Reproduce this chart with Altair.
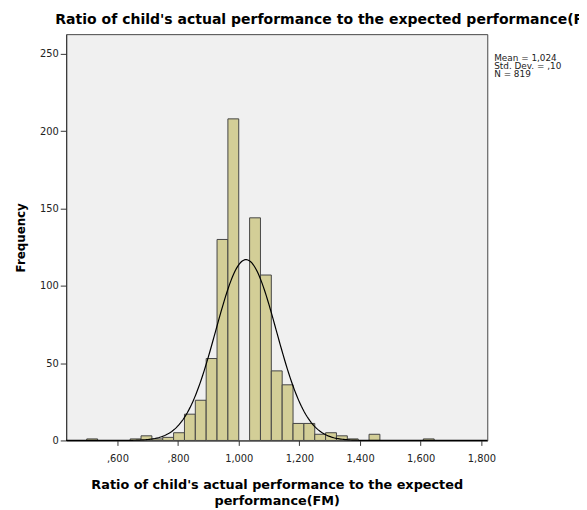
import altair as alt
import numpy as np
import pandas as pd

# ---- data ----
bin_index = list(range(-14, 18))          # bins relative to 1.000
bin_width = 0.0358
counts = [1, 0, 0, 0, 1, 3, 1, 2, 5, 17, 26, 53, 130, 208, 0, 144,
          107, 45, 36, 11, 11, 4, 5, 3, 1, 0, 4, 0, 0, 0, 0, 1]
mean_val = 1.024
sd_val = 0.100
n_val = 819

title_text = "Ratio of child's actual performance to the expected performance(FM)"
x_title = ["Ratio of child's actual performance to the expected", "performance(FM)"]
y_title = "Frequency"
stats_text = "Mean = 1,024\nStd. Dev. = ,10\nN = 819"
x_ticks = [0.6, 0.8, 1.0, 1.2, 1.4, 1.6, 1.8]
y_ticks = [0, 50, 100, 150, 200, 250]

x_domain = [0.431, 1.8195]
y_domain = [0, 262.8]

bars_df = pd.DataFrame({
    "lo": [1 + k * bin_width for k in bin_index],
    "hi": [1 + (k + 1) * bin_width for k in bin_index],
    "count": counts,
})
bars_df = bars_df[bars_df["count"] > 0]

# fitted normal curve from the reported mean / sd / N
xs = np.linspace(x_domain[0], x_domain[1], 300)
ys = n_val * bin_width * np.exp(-0.5 * ((xs - mean_val) / sd_val) ** 2) / (sd_val * np.sqrt(2 * np.pi))
curve_df = pd.DataFrame({"x": xs, "y": ys})

FONT = "DejaVu Sans"

xscale = alt.Scale(domain=x_domain, nice=False, zero=False)
yscale = alt.Scale(domain=y_domain, nice=False)

label_expr = ("datum.value < 1 ? replace(format(datum.value, '.3f'), '0.', ',') "
              ": replace(format(datum.value, '.3f'), '.', ',')")

xaxis = alt.Axis(values=x_ticks, labelExpr=label_expr, title=x_title, grid=False,
                 tickSize=5, labelPadding=8, titlePadding=16, titleLineHeight=16,
                 labelFontSize=10, titleFontSize=13, titleFontWeight="bold",
                 labelColor="#222", tickColor="#333", domainColor="#333",
                 titleColor="black", labelFont=FONT, titleFont=FONT)
yaxis = alt.Axis(values=y_ticks, title=y_title, grid=False, tickSize=6,
                 labelPadding=2, titlePadding=12, labelFontSize=10,
                 titleFontSize=12, titleFontWeight="bold",
                 labelColor="#222", tickColor="#333", domainColor="#333",
                 titleColor="black", labelFont=FONT, titleFont=FONT)

bars = alt.Chart(bars_df).mark_rect(
    fill="#D3CE97", stroke="#444444", strokeWidth=1
).encode(
    x=alt.X("lo:Q", scale=xscale, axis=xaxis),
    x2="hi:Q",
    y=alt.Y("count:Q", scale=yscale, axis=yaxis),
    y2=alt.datum(0),
)

curve = alt.Chart(curve_df).mark_line(color="black", strokeWidth=1.2).encode(
    x=alt.X("x:Q", scale=xscale),
    y=alt.Y("y:Q", scale=yscale),
)

stats = alt.Chart(pd.DataFrame({"t": [stats_text]})).mark_text(
    align="left", baseline="top", fontSize=9, lineHeight=8,
    lineBreak="\n", font=FONT, color="#222"
).encode(x=alt.value(434), y=alt.value(20), text="t:N")

chart = alt.layer(bars, curve, stats).properties(
    width=427, height=412,
    background="white",
    title=alt.TitleParams(title_text, anchor="start", frame="group", dx=-11, offset=7,
                          fontSize=14.2, font=FONT, fontWeight="bold", color="black"),
    autosize=alt.AutoSizeParams(type="none"),
    padding={"left": 59, "top": 23, "right": 93, "bottom": 67},
).configure_view(
    fill="#F0F0F0", stroke="#444", strokeWidth=1
)

chart.save("out.html", embed_options={"renderer": "svg", "actions": False})
